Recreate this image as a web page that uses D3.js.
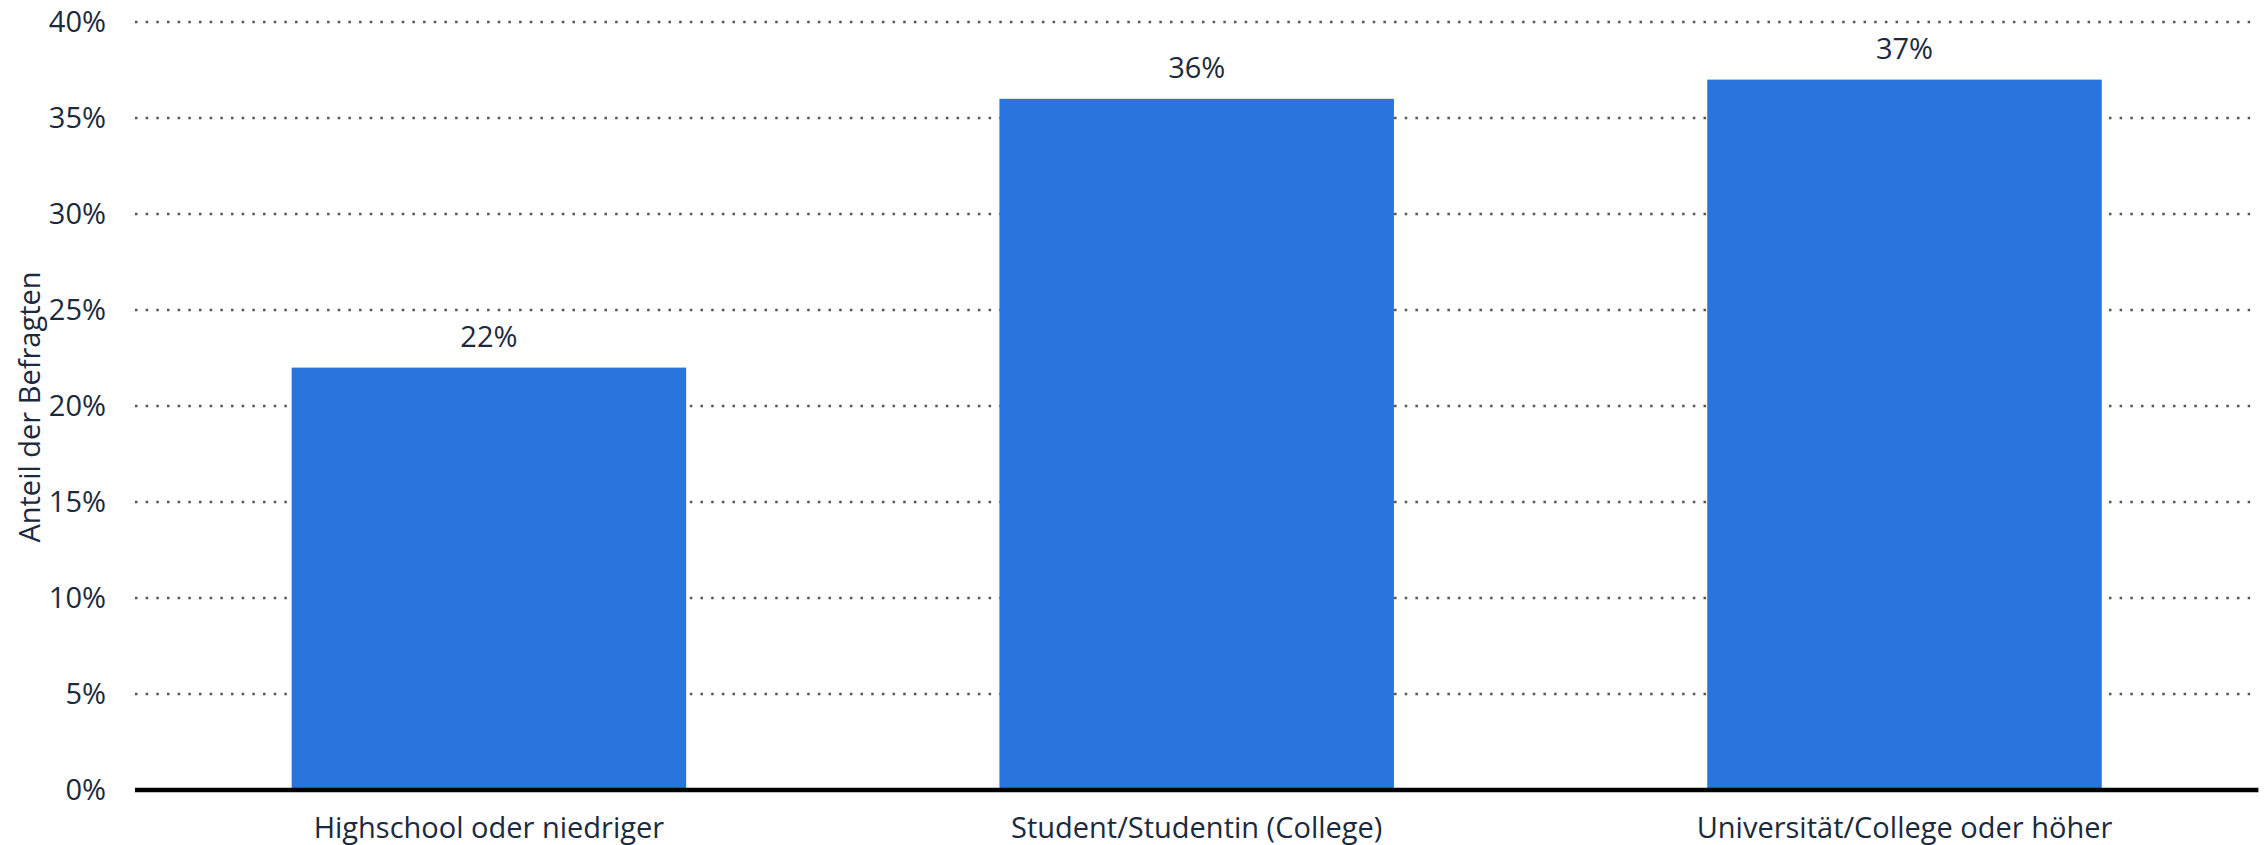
<!DOCTYPE html>
<html>
<head>
<meta charset="utf-8">
<script src="https://cdn.jsdelivr.net/npm/d3@7"></script>
<style>
  html, body { margin: 0; padding: 0; background: #fff; }
  svg { display: block; }
  text { font-family: "Open Sans", "Noto Sans", sans-serif; fill: #1b2a3d; }
</style>
</head>
<body>
<svg id="chart" width="2266" height="845"></svg>
<script>
const categories = ["Highschool oder niedriger", "Student/Studentin (College)", "Universität/College oder höher"];
const values = [22, 36, 37];
const yTicks = [0, 5, 10, 15, 20, 25, 30, 35, 40];
const yTitle = "Anteil der Befragten";

const W = 2266, H = 845;
const margin = { left: 135, right: 7.6, top: 22, bottom: 55 };
const svg = d3.select("#chart");

const x = d3.scaleBand()
  .domain(categories)
  .range([margin.left, W - margin.right])
  .paddingInner(0.4426)
  .paddingOuter(0.2213);

const y = d3.scaleLinear()
  .domain([0, 40])
  .range([H - margin.bottom, margin.top]);

// grid lines
svg.append("g").selectAll("line")
  .data(yTicks.filter(d => d > 0))
  .join("line")
  .attr("x1", margin.left)
  .attr("x2", W - 14)
  .attr("y1", d => y(d))
  .attr("y2", d => y(d))
  .attr("stroke", "#555")
  .attr("stroke-width", 2.5)
  .attr("stroke-dasharray", "2.5 8.17");

// y axis tick labels
const yAxis = d3.axisLeft(y).tickValues(yTicks).tickSize(0).tickPadding(0)
  .tickFormat(d => d + "%");
const gy = svg.append("g").attr("transform", `translate(${106},0)`).call(yAxis);
gy.select(".domain").remove();
gy.selectAll("text")
  .style("font-family", "'Open Sans', sans-serif")
  .style("font-size", "29px")
  .attr("fill", "#1b2a3d");

// bars
svg.append("g").selectAll("rect")
  .data(values)
  .join("rect")
  .attr("x", (d, i) => x(categories[i]))
  .attr("width", x.bandwidth())
  .attr("y", d => y(d))
  .attr("height", d => y(0) - y(d))
  .attr("fill", "#2876dd");

// value labels
svg.append("g").selectAll("text")
  .data(values)
  .join("text")
  .attr("x", (d, i) => x(categories[i]) + x.bandwidth() / 2)
  .attr("y", d => y(d) - 21)
  .attr("text-anchor", "middle")
  .style("font-size", "29px")
  .text(d => d + "%");

// baseline axis
const xAxis = d3.axisBottom(x).tickSize(0).tickPadding(0);
const gx = svg.append("g").attr("transform", `translate(0,${y(0)})`).call(xAxis);
gx.select(".domain").attr("stroke", "#000").attr("stroke-width", 4.5)
  .attr("d", `M${margin.left},0H${W - margin.right}`);
gx.selectAll("text")
  .attr("dy", null)
  .attr("y", 47.5)
  .style("font-family", "'Open Sans', sans-serif")
  .style("font-size", "29px")
  .attr("fill", "#1b2a3d");

// y axis title
svg.append("text")
  .attr("transform", `translate(40,${407}) rotate(-90)`)
  .attr("text-anchor", "middle")
  .style("font-size", "29px")
  .text(yTitle);
</script>
</body>
</html>
